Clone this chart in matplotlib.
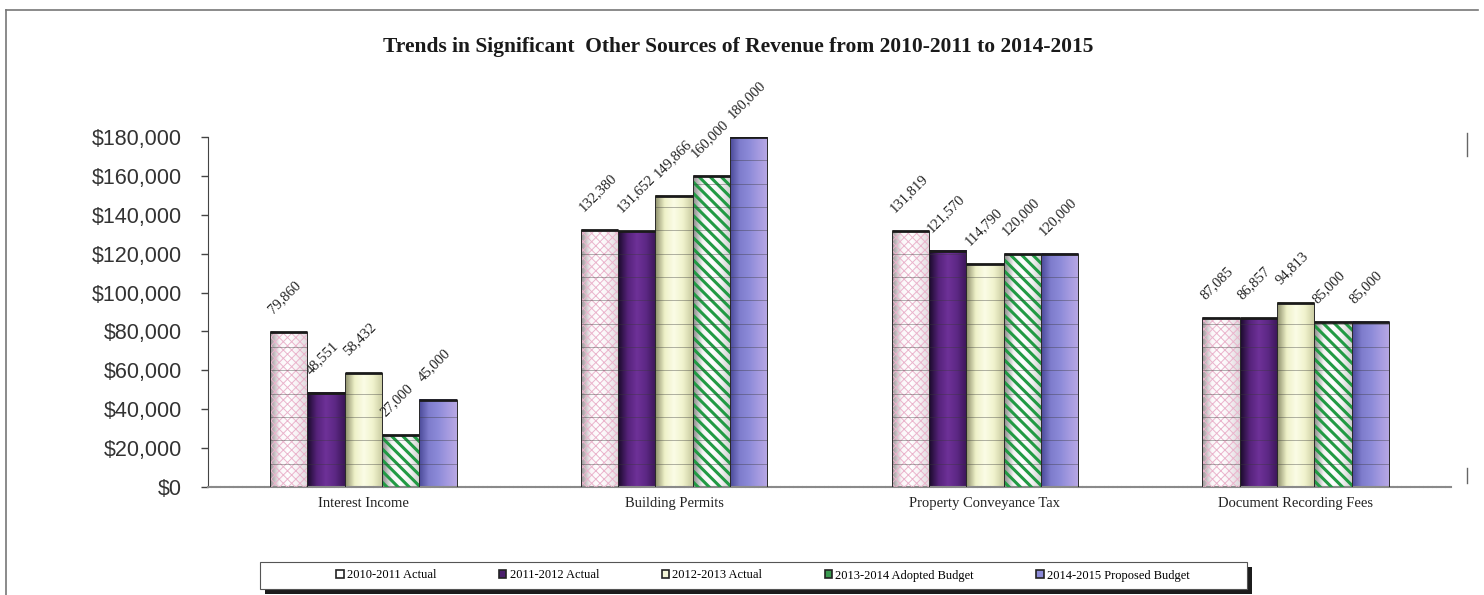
import numpy as np
import matplotlib
matplotlib.use("Agg")
from matplotlib import pyplot as plt
from matplotlib.colors import LinearSegmentedColormap
from matplotlib.patches import Patch, Rectangle
from matplotlib.lines import Line2D
from matplotlib.ticker import FuncFormatter

categories = ["Interest Income", "Building Permits", "Property Conveyance Tax", "Document Recording Fees"]
series_names = ["2010-2011 Actual", "2011-2012 Actual", "2012-2013 Actual",
                "2013-2014 Adopted Budget", "2014-2015 Proposed Budget"]
actual_2010_2011 = [79860, 132380, 131819, 87085]
actual_2011_2012 = [48551, 131652, 121570, 86857]
actual_2012_2013 = [58432, 149866, 114790, 94813]
adopted_2013_2014 = [27000, 160000, 120000, 85000]
proposed_2014_2015 = [45000, 180000, 120000, 85000]
series_values = [actual_2010_2011, actual_2011_2012, actual_2012_2013, adopted_2013_2014, proposed_2014_2015]

# cylinder shading stops (left edge -> highlight -> right edge), hatch overlay, legend swatch
shading = [
    ["#9a9496", "#fbf6f8", "#ffffff", "#f6f0f3", "#dcd6da"],
    ["#1a0a2a", "#55227a", "#6e3198", "#5c2884", "#3c1658"],
    ["#8c8e6a", "#eef1c8", "#fbfce6", "#f0f2cc", "#c8caa0"],
    ["#8a8a8a", "#f4f4f4", "#ffffff", "#f2f2f2", "#cfcfcf"],
    ["#4a4a98", "#7e7ccc", "#8c8ad8", "#a49ae0", "#b8a8e4"],
]
hatches = ["xxxx", None, None, "\\\\\\", None]
hatch_colors = ["#eab4cc", None, None, "#229a44", None]
swatch_colors = ["#ffffff", "#4a1e6c", "#f4f6d8", "#3a9a50", "#8c8ad8"]

W, H = 1484, 595
fig = plt.figure(figsize=(W / 100, H / 100), dpi=100)
ax = fig.add_axes([208 / W, 1 - 487 / H, (1451 - 208) / W, (487 - 137) / H])

x = np.arange(len(categories))
bar_w = 0.12
ylim_top = 180000
band_levels = np.arange(12000, ylim_top, 12000)

for i, values in enumerate(series_values):
    pos = x + (i - 2) * bar_w
    bars = ax.bar(pos, values, bar_w, color="none", edgecolor="none", zorder=2)
    cmap = LinearSegmentedColormap.from_list(f"s{i}", shading[i])
    grad = cmap(np.linspace(0, 1, 64))[np.newaxis, :, :]
    for rect in bars:
        bx, bw, bh = rect.get_x(), rect.get_width(), rect.get_height()
        ax.imshow(grad, extent=[bx, bx + bw, 0, bh], aspect="auto",
                  interpolation="bilinear", zorder=2)
        lv = band_levels[band_levels < bh]
        ax.hlines(lv, bx, bx + bw, colors="#3a3a3a", linewidth=0.6, alpha=0.45, zorder=3.5)
        ax.hlines(bh, bx, bx + bw, colors="#1a1a1a", linewidth=2.0, zorder=4.5)
    if hatches[i]:
        with plt.rc_context({"hatch.linewidth": 2.2 if i == 3 else 0.7}):
            ax.bar(pos, values, bar_w, color="none", edgecolor=hatch_colors[i],
                   hatch=hatches[i], linewidth=0, zorder=3)
    ax.bar(pos, values, bar_w, color="none", edgecolor="#2a2a2a", linewidth=0.7, zorder=4)
    for rect, v in zip(bars, values):
        ax.annotate(f"{v:,}", xy=(rect.get_x(), v), xytext=(2, 13), textcoords="offset points",
                    rotation=45, rotation_mode="anchor", ha="left", va="baseline",
                    fontsize=10.5, family="Liberation Serif", color="#222222")

ax.set_xlim(-0.5, len(categories) - 0.5)
ax.set_ylim(0, ylim_top)
ax.set_yticks(np.arange(0, ylim_top + 1, 20000))
ax.yaxis.set_major_formatter(FuncFormatter(lambda v, p: f"${v:,.0f}"))
ax.set_xticks(x)
ax.set_xticklabels(categories, family="Liberation Serif", fontsize=10.5, color="#222222")
ax.tick_params(axis="x", length=0, pad=7)
ax.tick_params(axis="y", length=5, width=1, color="#444444", pad=14,
               labelsize=15.5, labelcolor="#333333")
for lab in ax.get_yticklabels():
    lab.set_family("Liberation Sans")
ax.spines["top"].set_visible(False)
ax.spines["right"].set_visible(False)
ax.spines["left"].set_color("#444444")
ax.spines["bottom"].set_color("#8a8a8a")
ax.spines["bottom"].set_linewidth(1.5)
ax.spines["bottom"].set_linestyle((0, (1.5, 0.6)))

fig.text(738 / W, 1 - 47 / H, "Trends in Significant  Other Sources of Revenue from 2010-2011 to 2014-2015",
         ha="center", va="center", fontsize=15.5, fontweight="bold", family="Liberation Serif",
         color="#1a1a1a")

# page frame and scan remnants
fig.add_artist(Line2D([6 / W, 6 / W], [0, 1 - 10 / H], color="#777777", lw=1.2))
fig.add_artist(Line2D([6 / W, 1478 / W], [1 - 10 / H, 1 - 10 / H], color="#777777", lw=1.2))
fig.add_artist(Line2D([1467 / W, 1467 / W], [1 - 133 / H, 1 - 156 / H], color="#666666", lw=1))
fig.add_artist(Line2D([1467 / W, 1467 / W], [1 - 468 / H, 1 - 483 / H], color="#666666", lw=1))

# legend box with drop shadow
lx0, lx1, ly0, ly1 = 260, 1247, 562, 589
fig.add_artist(Rectangle(((lx0 + 5) / W, 1 - (ly1 + 5) / H), (lx1 - lx0) / W, (ly1 - ly0) / H,
                         transform=fig.transFigure, facecolor="#1c1c1c", edgecolor="none", zorder=5))
fig.add_artist(Rectangle((lx0 / W, 1 - ly1 / H), (lx1 - lx0) / W, (ly1 - ly0) / H,
                         transform=fig.transFigure, facecolor="white", edgecolor="#555555",
                         linewidth=0.8, zorder=6))
handles = [Patch(facecolor=c, edgecolor="#222222", linewidth=1.2) for c in swatch_colors]
leg = fig.legend(handles, series_names, ncol=5, frameon=False, borderpad=0,
                 bbox_to_anchor=(330 / W, 1 - (ly0 + ly1) / 2 / H), loc="center left",
                 handlelength=0.6, handleheight=0.6, handletextpad=0.25, columnspacing=5.0,
                 prop={"family": "Liberation Serif", "size": 9})
leg.set_zorder(7)

fig.savefig("out.png", dpi=100)
